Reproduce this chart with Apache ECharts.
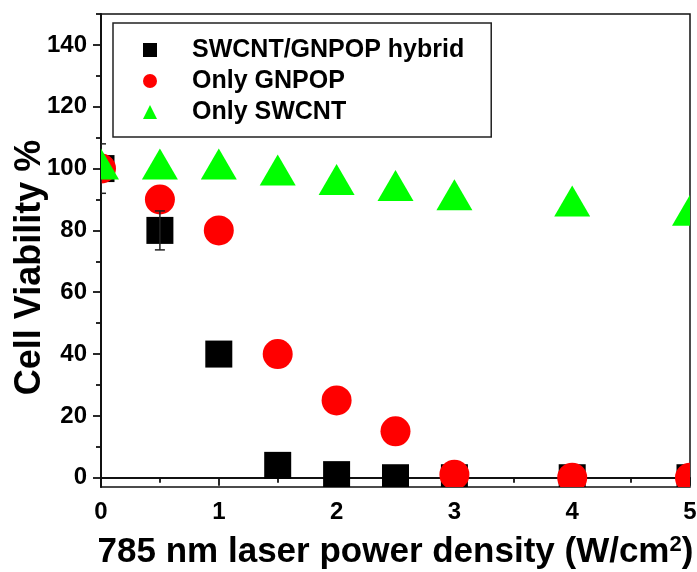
<!DOCTYPE html>
<html><head><meta charset="utf-8">
<script src="https://cdn.jsdelivr.net/npm/echarts@6/dist/echarts.min.js"></script>
<style>html,body{margin:0;padding:0;background:#fff}#c{width:697px;height:572px}</style>
</head><body><div id="c"></div>
<script>
const powerDensity = [0, 0.5, 1, 1.5, 2, 2.5, 3, 4, 5];
const hybridViability = [100, 80, 40, 4, 1, 0, 0, 0, 0];
const hybridError = [8, 6.3, 0, 0, 0, 0, 0, 0, 0];
const gnpopViability = [100, 90, 80, 40, 25, 15, 1, 0, 0];
const swcntViability = [101.5, 101.5, 101.5, 99.5, 96.5, 94.5, 91.5, 89.5, 86.5];
const yTickValues = [0, 20, 40, 60, 80, 100, 120, 140];
const yMinorTickValues = [10, 30, 50, 70, 90, 110, 130, 150];
const seriesNames = ['SWCNT/GNPOP hybrid', 'Only GNPOP', 'Only SWCNT'];
const xTitle = '785 nm laser power density (W/cm{sup|2})';
const yTitle = 'Cell Viability %';

const FONT = 'Liberation Sans';
const pairs = (ys) => powerDensity.map((x, i) => [x, ys[i]]);

const chart = echarts.init(document.getElementById('c'), null, {renderer: 'canvas'});

function squareItem(params, api) {
  const p = api.coord([api.value(0), api.value(1)]);
  return {type: 'rect', shape: {x: p[0] - 13.5, y: p[1] - 13.5, width: 27, height: 27},
          style: {fill: api.visual('color')}};
}
function circleItem(params, api) {
  const p = api.coord([api.value(0), api.value(1)]);
  return {type: 'circle', shape: {cx: p[0], cy: p[1], r: 15}, style: {fill: api.visual('color')}};
}
function triangleItem(params, api) {
  const p = api.coord([api.value(0), api.value(1)]);
  const w = 36, h = 31;
  return {type: 'polygon', shape: {points: [[p[0], p[1] - h / 2], [p[0] + w / 2, p[1] + h / 2], [p[0] - w / 2, p[1] + h / 2]]},
          style: {fill: api.visual('color')}};
}
function errorItem(params, api) {
  const x = api.value(0), y = api.value(1), e = api.value(2);
  if (!e) return null;
  const hi = api.coord([x, y + e]), lo = api.coord([x, y - e]);
  const st = {stroke: '#222', lineWidth: 1.5};
  return {type: 'group', children: [
    {type: 'line', shape: {x1: hi[0], y1: hi[1], x2: lo[0], y2: lo[1]}, style: st},
    {type: 'line', shape: {x1: hi[0] - 5, y1: hi[1], x2: hi[0] + 5, y2: hi[1]}, style: st},
    {type: 'line', shape: {x1: lo[0] - 5, y1: lo[1], x2: lo[0] + 5, y2: lo[1]}, style: st}
  ]};
}

const option = {
  animation: false,
  backgroundColor: '#fff',
  textStyle: {fontFamily: FONT},
  grid: {left: 101, right: 7, top: 14, bottom: 85, outerBoundsMode: 'none', containLabel: false,
         show: true, borderColor: '#111', borderWidth: 1.5, backgroundColor: 'transparent'},
  legend: {
    orient: 'vertical', left: 113, top: 23,
    itemWidth: 14, itemHeight: 14, itemGap: 1,
    padding: [12, 27, 10, 30],
    borderColor: '#222', borderWidth: 1.5,
    selectedMode: false,
    textStyle: {fontFamily: FONT, fontSize: 25, fontWeight: 'bold', color: '#000', lineHeight: 30, padding: [0, 0, 0, 30]},
    data: [
      {name: seriesNames[0], icon: 'rect'},
      {name: seriesNames[1], icon: 'circle'},
      {name: seriesNames[2], icon: 'triangle'}
    ]
  },
  xAxis: {
    type: 'value', min: 0, max: 5, interval: 1,
    splitLine: {show: false},
    axisLine: {show: true, lineStyle: {color: '#111', width: 2}},
    axisTick: {show: true, length: 8, lineStyle: {color: '#111', width: 1.8}},
    minorTick: {show: true, splitNumber: 2, length: 5, lineStyle: {color: '#111', width: 1.8}},
    axisLabel: {fontFamily: FONT, fontSize: 24, fontWeight: 'bold', color: '#000', margin: 13},
    name: xTitle, nameLocation: 'middle', nameGap: 47, nameMoveOverlap: false,
    nameTextStyle: {fontFamily: FONT, fontSize: 35, fontWeight: 'bold', color: '#000',
      rich: {sup: {fontFamily: FONT, fontSize: 22, fontWeight: 'bold', color: '#000', verticalAlign: 'top', padding: [0, 0, 14, 0]}}}
  },
  yAxis: [{
    type: 'value', min: -3, max: 150,
    splitLine: {show: false},
    axisLine: {show: true, lineStyle: {color: '#111', width: 2}},
    axisTick: {show: true, length: 8, customValues: yTickValues, lineStyle: {color: '#111', width: 1.8}},
    axisLabel: {fontFamily: FONT, fontSize: 24, fontWeight: 'bold', color: '#000', margin: 14, customValues: yTickValues},
    name: yTitle, nameLocation: 'middle', nameGap: 53, nameMoveOverlap: false,
    nameTextStyle: {fontFamily: FONT, fontSize: 36, fontWeight: 'bold', color: '#000', padding: [0, 34, 0, 0]}
  }, {
    type: 'value', min: -3, max: 150, position: 'left',
    splitLine: {show: false},
    axisLine: {show: false},
    axisTick: {show: true, length: 5, customValues: yMinorTickValues, lineStyle: {color: '#111', width: 1.8}},
    axisLabel: {show: false}
  }],
  series: [
    {name: seriesNames[0], type: 'custom', clip: true, renderItem: squareItem, itemStyle: {color: '#000000'},
     encode: {x: 0, y: 1}, data: pairs(hybridViability), z: 2},
    {name: seriesNames[1], type: 'custom', clip: true, renderItem: circleItem, itemStyle: {color: '#ff0000'},
     encode: {x: 0, y: 1}, data: pairs(gnpopViability), z: 3},
    {name: 'hybrid error', type: 'custom', clip: true, renderItem: errorItem, itemStyle: {color: '#222'},
     encode: {x: 0, y: 1}, data: powerDensity.map((x, i) => [x, hybridViability[i], hybridError[i]]), z: 4},
    {name: seriesNames[2], type: 'custom', clip: true, renderItem: triangleItem, itemStyle: {color: '#00ff00'},
     encode: {x: 0, y: 1}, data: pairs(swcntViability), z: 5}
  ]
};
chart.setOption(option);
</script></body></html>
